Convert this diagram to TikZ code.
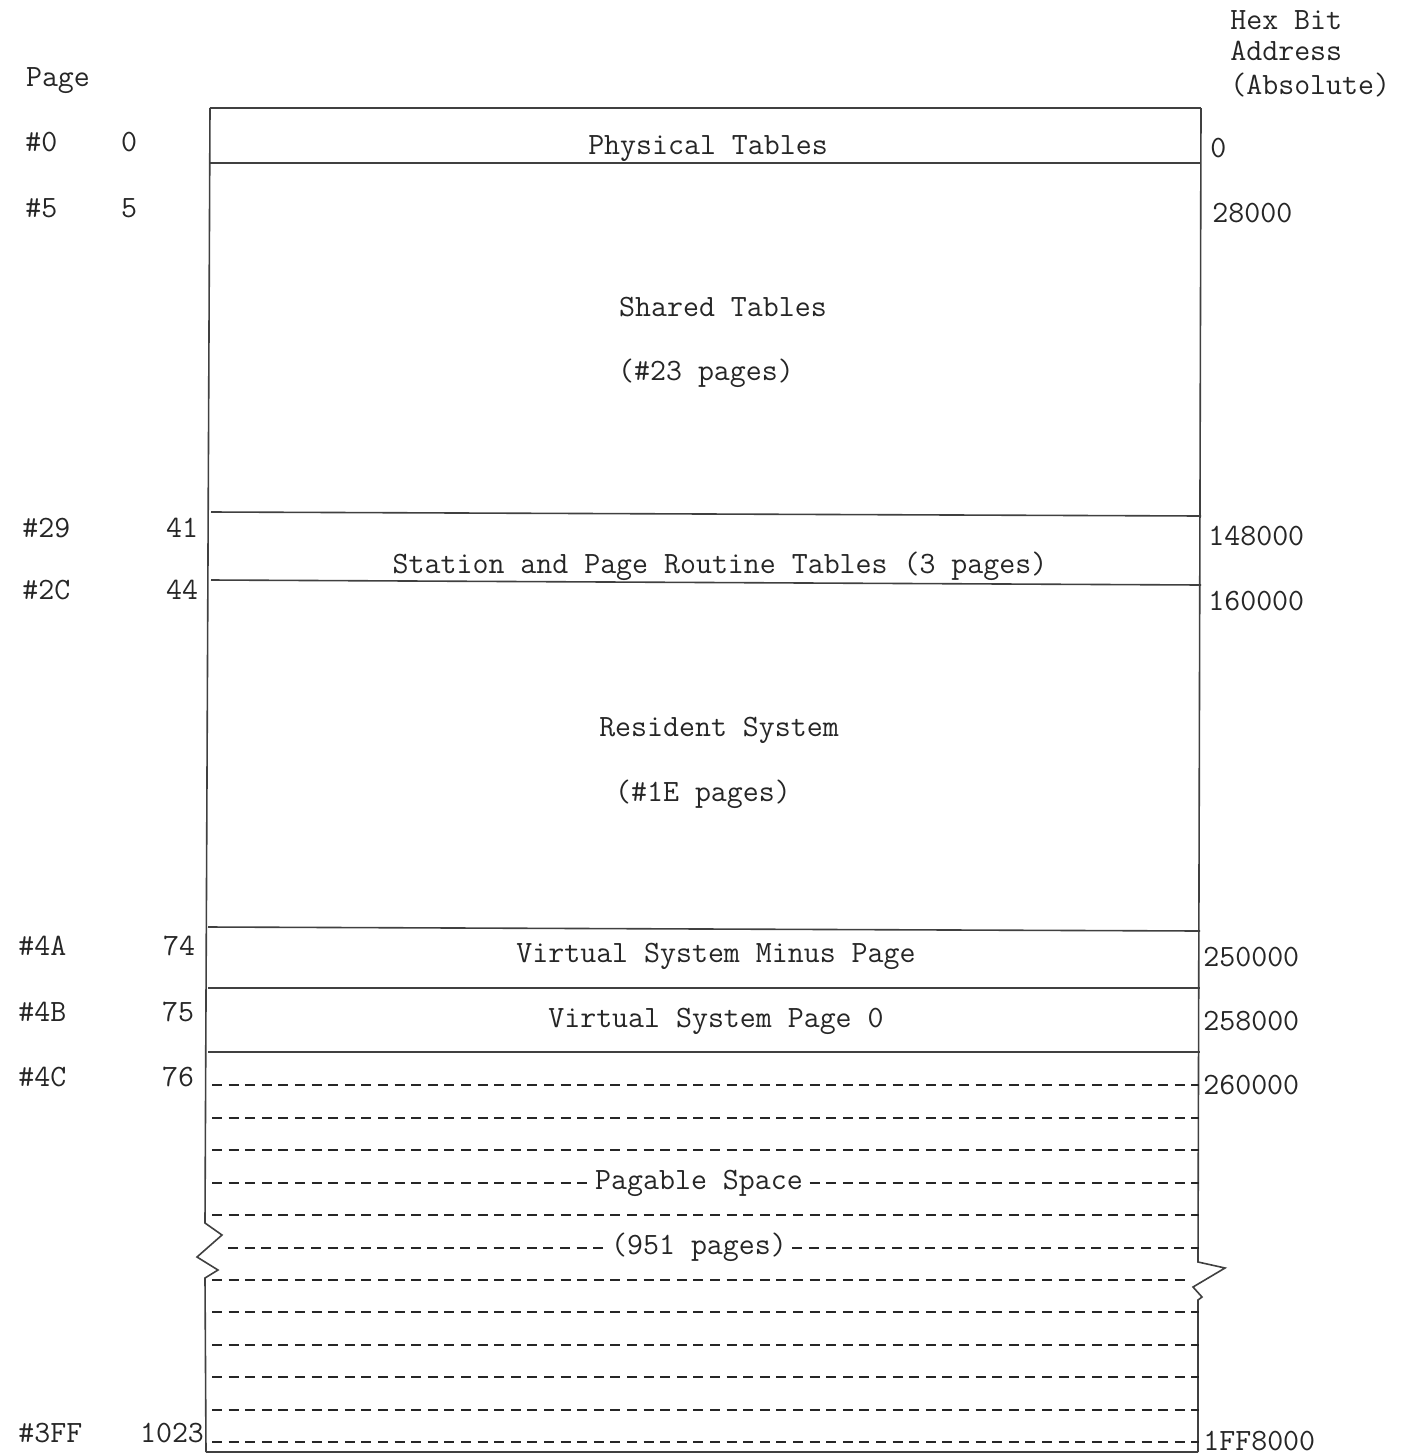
\documentclass[tikz,border=0pt]{standalone}
\usepackage{fontspec}
\begin{document}
\begin{tikzpicture}[x=0.5pt,y=-0.5pt,
  txt/.style={font=\fontsize{15.5}{18}\selectfont\ttfamily, text=black!85, inner sep=0pt, anchor=base},
  onl/.style={txt, fill=white, inner xsep=1pt, inner ysep=2pt},
  solidline/.style={line width=0.8pt, draw=black!75},
  dashline/.style={line width=1.1pt, draw=black!85, dash pattern=on 5pt off 3.3pt},
]
\useasboundingbox (0,0) rectangle (1403,1456);

% box outline with breaks
\draw[solidline] (210,108) -- (1201,108);
\draw[solidline] (210,108) -- (205,1223) -- (222,1235) -- (197,1257) -- (218,1270) -- (205,1278) -- (206,1452);
\draw[solidline] (1201,108) -- (1198,1262) -- (1225,1268) -- (1193,1287) -- (1202,1297) -- (1198,1300) -- (1198,1452);
\draw[solidline] (206,1452) -- (1198,1452);

% solid separators
\draw[solidline] (210,163) -- (1201,163);
\draw[solidline] (211,512) -- (1201,516);
\draw[solidline] (211,580) -- (1201,585);
\draw[solidline] (208,927) -- (1200,931);
\draw[solidline] (208,988) -- (1200,988);
\draw[solidline] (208,1052) -- (1200,1052);

% dashed lines (pagable space)
\foreach \yy in {1085,1118,1150,1183,1215,1312,1345,1377,1410,1442}
  \draw[dashline] (212,\yy) -- (1199,\yy);
\draw[dashline] (228,1248) -- (1199,1248);
\draw[dashline] (212,1280) -- (1185,1280);

% region labels
\node[txt] (phys) at (708,154) {Physical Tables};
\node[txt] (shared) at (723,316) {Shared Tables};
\node[txt] (sharedn) at (706,380) {(\#23 pages)};
\node[txt] (station) at (720,573) {Station and Page Routine Tables (3 pages)};
\node[txt] (resident) at (719,736) {Resident System};
\node[txt] (residentn) at (703,801) {(\#1E pages)};
\node[txt] (vsmp) at (716,962) {Virtual System Minus Page};
\node[txt] (vsp) at (716,1027) {Virtual System Page 0};
\node[onl] (pag) at (699,1189) {Pagable Space};
\node[onl] (pagn) at (699,1254) {(951 pages)};

% left headings
\node[txt] (page) at (58,86) {Page};
\node[txt, anchor=base west] (h0) at (25,151) {\#0};
\node[txt] (d0) at (129,151) {0};
\node[txt, anchor=base west] (h5) at (25,217) {\#5};
\node[txt] (d5) at (129,217) {5};
\node[txt, anchor=base west] (h29) at (22,537) {\#29};
\node[txt] (d41) at (182,537) {41};
\node[txt, anchor=base west] (h2c) at (22,599) {\#2C};
\node[txt] (d44) at (182,599) {44};
\node[txt, anchor=base west] (h4a) at (18,955) {\#4A};
\node[txt] (d74) at (179,955) {74};
\node[txt, anchor=base west] (h4b) at (18,1021) {\#4B};
\node[txt] (d75) at (178,1021) {75};
\node[txt, anchor=base west] (h4c) at (18,1086) {\#4C};
\node[txt] (d76) at (178,1086) {76};
\node[txt, anchor=base west] (h3ff) at (18,1442) {\#3FF};
\node[txt] (d1023) at (172,1442) {1023};

% right headings
\node[txt, anchor=base west] (hex1) at (1230,29) {Hex Bit};
\node[txt, anchor=base west] (hex2) at (1230,61) {Address};
\node[txt, anchor=base west] (hex3) at (1230,94) {(Absolute)};
\node[txt, anchor=base west] (a0) at (1210,157) {0};
\node[txt, anchor=base west] (a1) at (1212,222) {28000};
\node[txt, anchor=base west] (a2) at (1208,545) {148000};
\node[txt, anchor=base west] (a3) at (1208,610) {160000};
\node[txt, anchor=base west] (a4) at (1203,966) {250000};
\node[txt, anchor=base west] (a5) at (1203,1030) {258000};
\node[txt, anchor=base west] (a6) at (1203,1094) {260000};
\node[txt, anchor=base west] (a7) at (1203,1450) {1FF8000};
\end{tikzpicture}
\end{document}
